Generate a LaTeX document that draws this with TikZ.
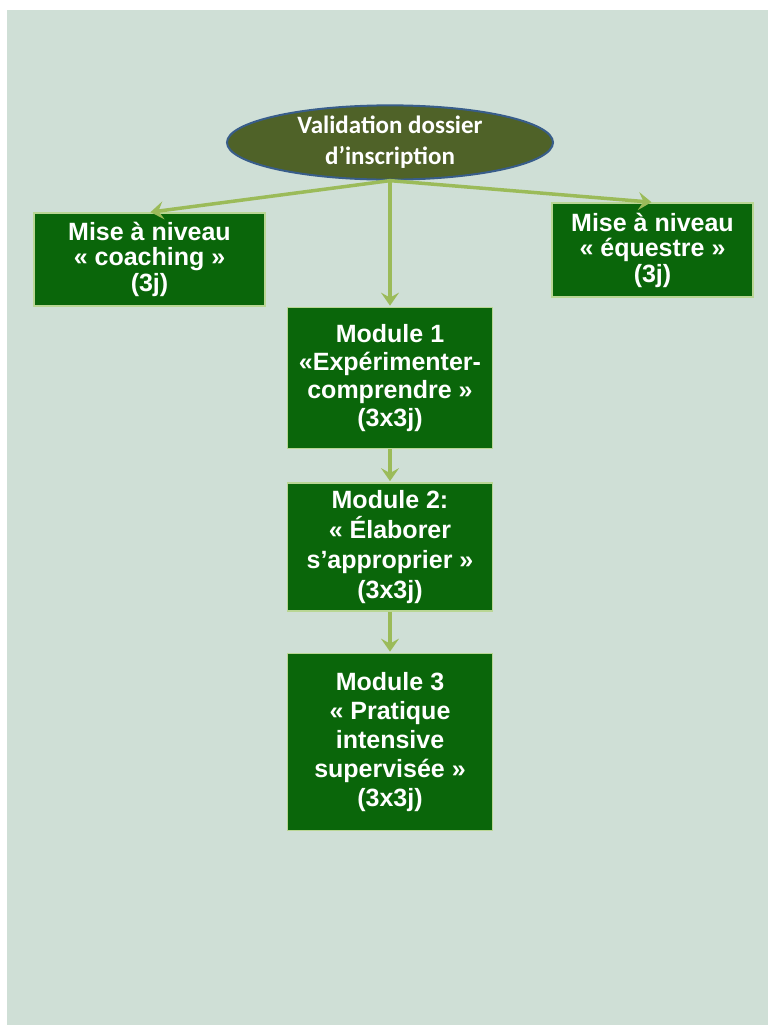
\documentclass[tikz,border=0pt]{standalone}
\usepackage{fontspec}
\usepackage{tikz}
\usepackage{xcolor}
\usetikzlibrary{shapes.geometric,arrows.meta,positioning}
\setmainfont{Liberation Sans}
\newfontfamily\valfont{Carlito}
\definecolor{panel}{HTML}{CFDFD6}
\definecolor{boxgreen}{HTML}{0A660A}
\definecolor{boxedge}{HTML}{B9D694}
\definecolor{arrowgreen}{HTML}{9BBB59}
\definecolor{valfill}{HTML}{4F6228}
\definecolor{valedge}{HTML}{385D8A}
\tikzstyle{etape} = [rectangle, draw=boxedge, line width=1.5pt, fill=boxgreen, text=white, align=center, inner sep=0pt, font=\bfseries\fontsize{25}{25}\selectfont]
\tikzstyle{dossier} = [ellipse, draw=valedge, line width=2pt, fill=valfill, text=white, align=center, inner sep=0pt, minimum width=326pt, minimum height=65pt, font=\valfont\bfseries\fontsize{25}{31}\selectfont]

\begin{document}
\begin{tikzpicture}[x=1pt,y=1pt,->,>={Stealth[length=13pt,width=18pt,inset=5pt]},shorten >=1pt,node distance=34pt,every edge/.style={draw=arrowgreen,line width=3.5pt}]
  \useasboundingbox (0,0) rectangle (768,-1026);
  \fill[panel] (7,-10) rectangle (768,-1025);

  \node[dossier] (val) at (390,-142.5) {Validation dossier\\d’inscription};
  \node[etape, minimum width=231pt, minimum height=93pt] (coach) at (149.5,-259.5) {Mise à niveau\\« coaching »\\[1pt](3j)};
  \node[etape, minimum width=201pt, minimum height=94pt] (equ) at (652.5,-250) {Mise à niveau\\« équestre »\\[1pt](3j)};
  \node[etape, minimum width=205pt, minimum height=141pt, font=\bfseries\fontsize{25}{28}\selectfont] (mod1) [below=126pt of val] {Module 1\\«Expérimenter-\\comprendre »\\(3x3j)};
  \node[etape, minimum width=205pt, minimum height=128pt, font=\bfseries\fontsize{25}{30}\selectfont] (mod2) [below=33pt of mod1] {Module 2:\\« Élaborer\\s’approprier »\\(3x3j)};
  \node[etape, minimum width=205pt, minimum height=177pt, font=\bfseries\fontsize{25}{29}\selectfont] (mod3) [below=41pt of mod2] {Module 3\\« Pratique\\intensive\\supervisée »\\(3x3j)};

  \path (val.south) edge node {} (coach.north);
  \path (val.south) edge node {} (equ.north);
  \path (val.south) edge node {} (mod1.north);
  \path (mod1) edge node {} (mod2);
  \path (mod2) edge node {} (mod3);
\end{tikzpicture}
\end{document}
